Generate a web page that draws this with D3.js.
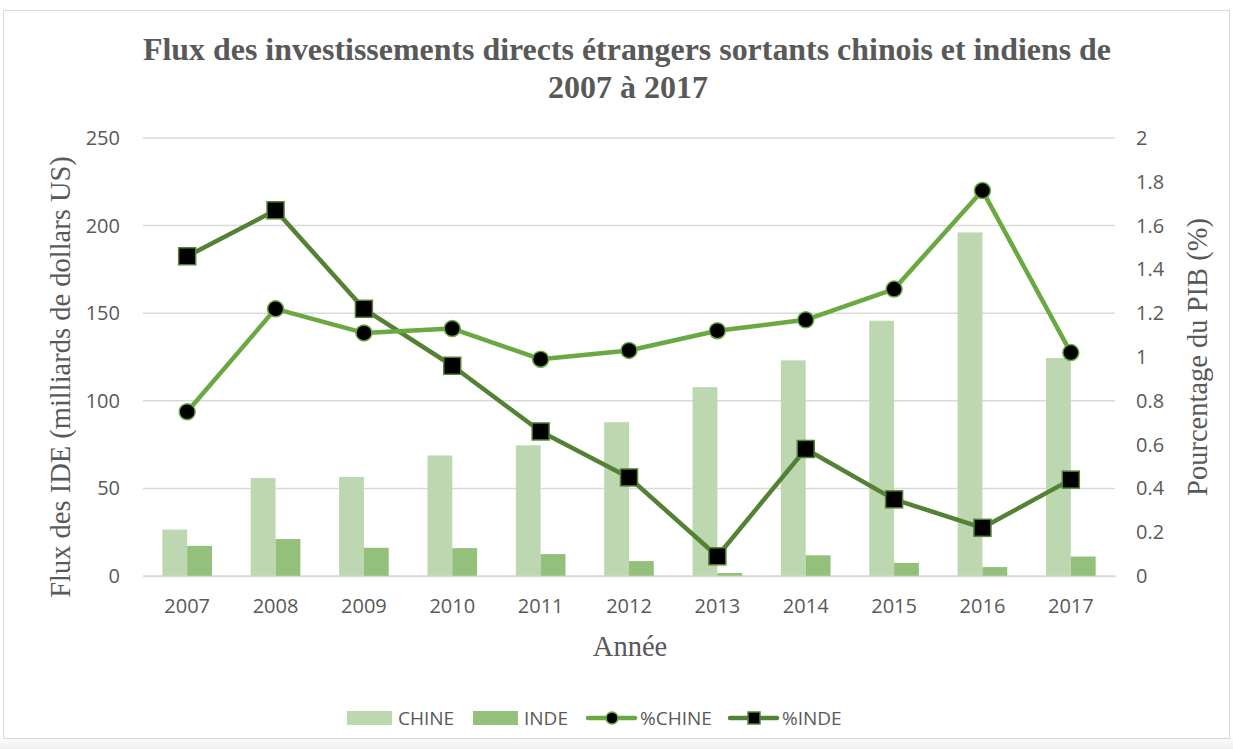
<!DOCTYPE html>
<html>
<head>
<meta charset="utf-8">
<script src="https://cdn.jsdelivr.net/npm/d3@7"></script>
<style>
  body { margin: 0; background: #fff; }
  svg { display: block; }
</style>
</head>
<body>
<svg id="canvas" width="1233" height="749"></svg>
<script>
let years = ['2007', '2008', '2009', '2010', '2011', '2012', '2013', '2014', '2015', '2016', '2017']
let chine = [26.5, 55.9, 56.5, 68.8, 74.6, 87.8, 107.8, 123.1, 145.7, 196.1, 124.4]
let inde = [17.2, 21.1, 16.1, 15.9, 12.5, 8.5, 1.7, 11.8, 7.5, 5.1, 11.1]
let pctChine = [0.75, 1.22, 1.11, 1.13, 0.99, 1.03, 1.12, 1.17, 1.31, 1.76, 1.02]
let pctInde = [1.46, 1.67, 1.22, 0.96, 0.66, 0.45, 0.09, 0.58, 0.35, 0.22, 0.44]
let leftTicks = [0, 50, 100, 150, 200, 250]
let rightTicks = [0, 0.2, 0.4, 0.6, 0.8, 1, 1.2, 1.4, 1.6, 1.8, 2]

let colChine = '#bdd7b1'
let colInde = '#93c07b'
let colPctChine = '#6aa842'
let colPctInde = '#548235'

let canvas = d3.select('#canvas')

// soft shadow under the frame, then the frame
let grad = canvas.append('defs').append('linearGradient')
    .attr('id', 'shade').attr('x1', 0).attr('x2', 0).attr('y1', 0).attr('y2', 1)
grad.append('stop').attr('offset', 0).attr('stop-color', '#ffffff')
grad.append('stop').attr('offset', 1).attr('stop-color', '#f0f0f0')
canvas.append('rect')
    .attr('x', 0).attr('y', 735).attr('width', 1233).attr('height', 14)
    .attr('fill', 'url(#shade)')

canvas.append('rect')
    .attr('x', 3.5).attr('y', 10.5)
    .attr('width', 1226).attr('height', 728)
    .attr('fill', '#fff')
    .attr('stroke', '#d9d9d9')

let plotLeft = 143, plotRight = 1115, plotTop = 138, plotBottom = 576

let x = d3.scaleBand().domain(years).range([plotLeft, plotRight])
let xSub = d3.scaleBand().domain(['c', 'i']).range([0, x.bandwidth()]).paddingOuter(0.78)
let y = d3.scaleLinear().domain([0, 250]).range([plotBottom, plotTop])
let y2 = d3.scaleLinear().domain([0, 2]).range([plotBottom, plotTop])

// gridlines
canvas.append('g')
    .selectAll('line')
    .data(leftTicks)
    .enter()
    .append('line')
    .attr('x1', plotLeft).attr('x2', plotRight)
    .attr('y1', d => y(d)).attr('y2', d => y(d))
    .attr('stroke', '#d9d9d9')
    .attr('stroke-width', 1.5)

// bars
let bars = canvas.append('g')
bars.selectAll('.chine')
    .data(chine)
    .enter()
    .append('rect')
    .attr('x', (d, i) => x(years[i]) + xSub('c'))
    .attr('width', xSub.bandwidth())
    .attr('y', d => y(d))
    .attr('height', d => plotBottom - y(d))
    .attr('fill', colChine)
bars.selectAll('.inde')
    .data(inde)
    .enter()
    .append('rect')
    .attr('x', (d, i) => x(years[i]) + xSub('i'))
    .attr('width', xSub.bandwidth())
    .attr('y', d => y(d))
    .attr('height', d => plotBottom - y(d))
    .attr('fill', colInde)

let cx = (d, i) => x(years[i]) + x.bandwidth() / 2

let line = d3.line().x(cx).y(d => y2(d))

canvas.append('path')
    .datum(pctInde)
    .attr('d', line)
    .attr('fill', 'none')
    .attr('stroke', colPctInde)
    .attr('stroke-width', 4.5)
    .attr('stroke-linejoin', 'round')

canvas.append('path')
    .datum(pctChine)
    .attr('d', line)
    .attr('fill', 'none')
    .attr('stroke', colPctChine)
    .attr('stroke-width', 4.5)
    .attr('stroke-linejoin', 'round')

canvas.append('g')
    .selectAll('circle')
    .data(pctChine)
    .enter()
    .append('circle')
    .attr('cx', cx)
    .attr('cy', d => y2(d))
    .attr('r', 8)
    .attr('fill', '#000')
    .attr('stroke', colPctChine)
    .attr('stroke-width', 1.5)

canvas.append('g')
    .selectAll('rect')
    .data(pctInde)
    .enter()
    .append('rect')
    .attr('x', (d, i) => cx(d, i) - 8.5)
    .attr('y', d => y2(d) - 8.5)
    .attr('width', 17).attr('height', 17)
    .attr('fill', '#000')
    .attr('stroke', colPctInde)
    .attr('stroke-width', 1.5)

// axes
let tickFont = "'Open Sans', sans-serif"

let xAxis = canvas.append('g')
    .attr('transform', 'translate(0,' + plotBottom + ')')
    .call(d3.axisBottom(x).tickSize(0).tickPadding(23))
xAxis.select('.domain').attr('stroke', '#d9d9d9').attr('stroke-width', 1.5)

let yAxis = canvas.append('g')
    .attr('transform', 'translate(' + plotLeft + ',0)')
    .call(d3.axisLeft(y).tickValues(leftTicks).tickSize(0).tickPadding(23))
yAxis.select('.domain').remove()

let y2Axis = canvas.append('g')
    .attr('transform', 'translate(' + plotRight + ',0)')
    .call(d3.axisRight(y2).tickValues(rightTicks).tickSize(0).tickPadding(21).tickFormat(d => String(d)))
y2Axis.select('.domain').remove()

canvas.selectAll('.tick text')
    .attr('font-family', tickFont)
    .attr('font-size', 20)
    .attr('fill', '#595959')

// titles
let serif = "'Liberation Serif', 'Times New Roman', serif"
let title = canvas.append('text')
    .attr('font-family', serif)
    .attr('font-weight', 'bold')
    .attr('font-size', 32)
    .attr('fill', '#595959')
    .attr('text-anchor', 'middle')
title.append('tspan').attr('x', 627).attr('y', 60)
    .attr('textLength', 968).attr('lengthAdjust', 'spacingAndGlyphs')
    .text('Flux des investissements directs étrangers sortants chinois et indiens de')
title.append('tspan').attr('x', 628).attr('y', 98).text('2007 à 2017')

canvas.append('text')
    .attr('transform', 'translate(70,377) rotate(-90)')
    .attr('text-anchor', 'middle')
    .attr('font-family', serif)
    .attr('font-size', 28.5)
    .attr('fill', '#595959')
    .text('Flux des IDE (milliards de dollars US)')

canvas.append('text')
    .attr('transform', 'translate(1207,357) rotate(-90)')
    .attr('text-anchor', 'middle')
    .attr('font-family', serif)
    .attr('font-size', 28.5)
    .attr('fill', '#595959')
    .text('Pourcentage du PIB (%)')

canvas.append('text')
    .attr('x', 630).attr('y', 656)
    .attr('text-anchor', 'middle')
    .attr('font-family', serif)
    .attr('font-size', 28.5)
    .attr('fill', '#595959')
    .text('Année')

// legend
let legend = canvas.append('g').attr('font-family', tickFont).attr('font-size', 19).attr('fill', '#595959')
let ly = 718
legend.append('rect').attr('x', 347).attr('y', ly - 7).attr('width', 45).attr('height', 14).attr('fill', colChine)
legend.append('text').attr('x', 398).attr('y', ly + 7).text('CHINE')
legend.append('rect').attr('x', 473).attr('y', ly - 7).attr('width', 45).attr('height', 14).attr('fill', colInde)
legend.append('text').attr('x', 524).attr('y', ly + 7).text('INDE')
legend.append('line').attr('x1', 588).attr('x2', 635).attr('y1', ly).attr('y2', ly)
    .attr('stroke', colPctChine).attr('stroke-width', 4.5).attr('stroke-linecap', 'round')
legend.append('circle').attr('cx', 612).attr('cy', ly).attr('r', 6).attr('fill', '#000')
    .attr('stroke', colPctChine).attr('stroke-width', 1.5)
legend.append('text').attr('x', 640).attr('y', ly + 7).text('%CHINE')
legend.append('line').attr('x1', 730).attr('x2', 777).attr('y1', ly).attr('y2', ly)
    .attr('stroke', colPctInde).attr('stroke-width', 4.5).attr('stroke-linecap', 'round')
legend.append('rect').attr('x', 748).attr('y', ly - 6).attr('width', 12).attr('height', 12).attr('fill', '#000')
    .attr('stroke', colPctInde).attr('stroke-width', 1.5)
legend.append('text').attr('x', 782).attr('y', ly + 7).text('%INDE')
</script>
</body>
</html>
